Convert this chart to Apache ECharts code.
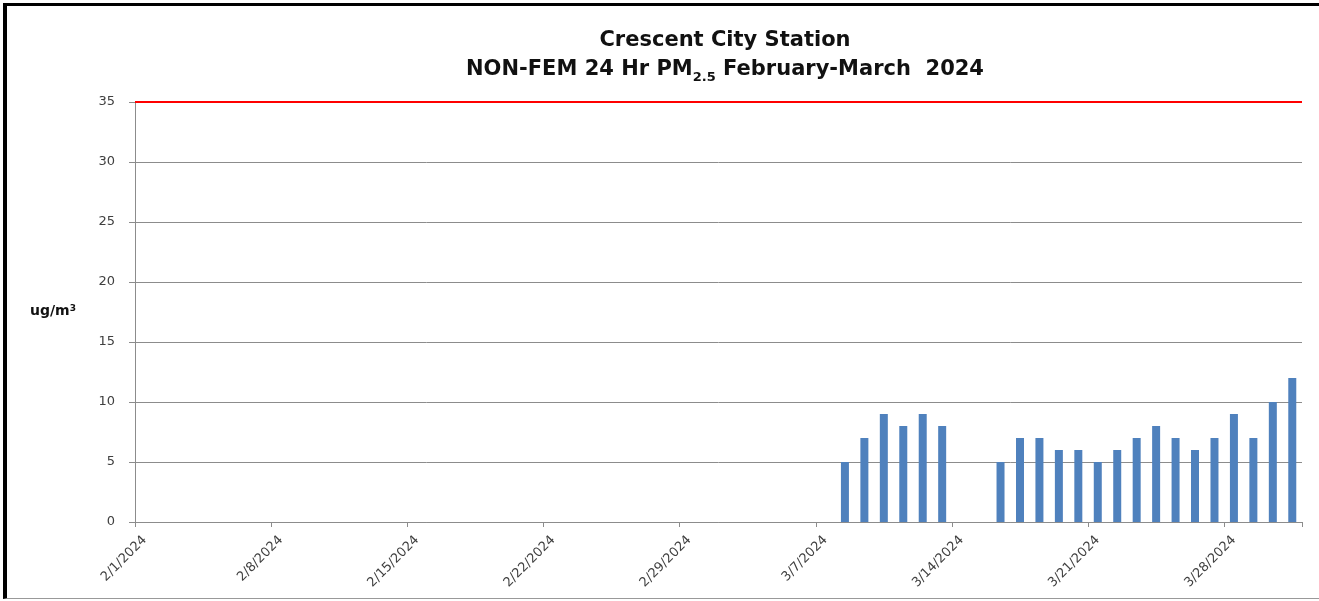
<!DOCTYPE html>
<html>
<head>
<meta charset="utf-8">
<title>Crescent City Station</title>
<script src="https://cdn.jsdelivr.net/npm/echarts@6/dist/echarts.min.js"></script>
<style>
  html, body { margin: 0; padding: 0; background: #fff; }
  #frame {
    position: absolute; left: 3px; top: 3px; width: 1316px; height: 596px;
    border-top: 3px solid #000; border-left: 4px solid #000; border-bottom: 1px solid #999;
    box-sizing: border-box;
  }
  #chart { position: absolute; left: 0; top: 0; width: 1319px; height: 601px; }
</style>
</head>
<body>
<div id="frame"></div>
<div id="chart"></div>
<script>
// days of Feb-Mar 2024 (leap year)
const months = [2, 3]
const monthDays = [29, 31]
const dates = []
months.forEach((m, i) => {
  for (let d = 1; d <= monthDays[i]; d++) dates.push(m + '/' + d + '/2024')
})

// 24 hr PM2.5 values, nothing reported before 3/8
const febValues = new Array(29).fill(null)
const marValues = [null, null, null, null, null, null, null,
  5, 7, 9, 8, 9, 8, null, null,
  5, 7, 7, 6, 6, 5, 6, 7, 8, 7, 6, 7, 9, 7, 10, 12]
const pmValues = febValues.concat(marValues)

// a label every 7 days: 2/1, 2/8 ... 3/28
const labelEvery = 7

const yTicks = { min: 0, max: 35, interval: 5 }
const standardLimit = 35

const font = '"DejaVu Sans", "Liberation Sans", sans-serif'
const gridColor = '#8c8c8c'
const labelColor = '#404040'

const chart = echarts.init(document.getElementById('chart'))
chart.setOption({
  backgroundColor: 'transparent',
  animation: false,
  title: {
    left: 720,
    textAlign: 'center',
    top: 21,
    itemGap: 0,
    text: 'Crescent City Station',
    subtext: '{t|NON-FEM 24 Hr PM}{s|2.5}{t| February-March  2024}',
    textStyle: { fontFamily: font, fontSize: 21, fontWeight: 'bold', color: '#111', lineHeight: 29 },
    subtextStyle: {
      lineHeight: 29,
      rich: {
        t: { fontFamily: font, fontSize: 21, fontWeight: 'bold', color: '#111' },
        s: { fontFamily: font, fontSize: 13, fontWeight: 'bold', color: '#111', verticalAlign: 'bottom', padding: [10, 0, 0, 0] }
      }
    }
  },
  graphic: [{
    type: 'text',
    left: 30,
    top: 304,
    style: {
      text: '{a|ug/m}{b|3}',
      rich: {
        a: { fontFamily: font, fontSize: 14, fontWeight: 'bold', fill: '#111' },
        b: { fontFamily: font, fontSize: 9, fontWeight: 'bold', fill: '#111', verticalAlign: 'top', padding: [0, 0, 6, 0] }
      }
    }
  }],
  grid: { left: 135, right: 17, top: 102, bottom: 79 },
  xAxis: {
    type: 'category',
    data: dates,
    boundaryGap: true,
    axisLine: { lineStyle: { color: gridColor, width: 1 } },
    axisTick: { show: true, interval: labelEvery - 1, alignWithLabel: false, length: 5, lineStyle: { color: gridColor } },
    axisLabel: {
      interval: labelEvery - 1,
      rotate: 45,
      margin: 16,
      fontFamily: font,
      fontSize: 13,
      color: labelColor
    },
    splitLine: { show: false }
  },
  yAxis: {
    type: 'value',
    min: yTicks.min,
    max: yTicks.max,
    interval: yTicks.interval,
    axisLine: { show: true, lineStyle: { color: gridColor, width: 1 } },
    axisTick: { show: true, length: 6, lineStyle: { color: gridColor } },
    axisLabel: { margin: 20, fontFamily: font, fontSize: 13, color: labelColor },
    splitLine: { lineStyle: { color: gridColor, width: 1 } }
  },
  series: [{
    name: 'PM2.5',
    type: 'bar',
    data: pmValues,
    barWidth: 8,
    itemStyle: { color: '#4F81BD' },
    markLine: {
      silent: true,
      symbol: 'none',
      label: { show: false },
      lineStyle: { color: '#ff0000', width: 2, type: 'solid' },
      data: [{ yAxis: standardLimit }]
    }
  }]
})
</script>
</body>
</html>
